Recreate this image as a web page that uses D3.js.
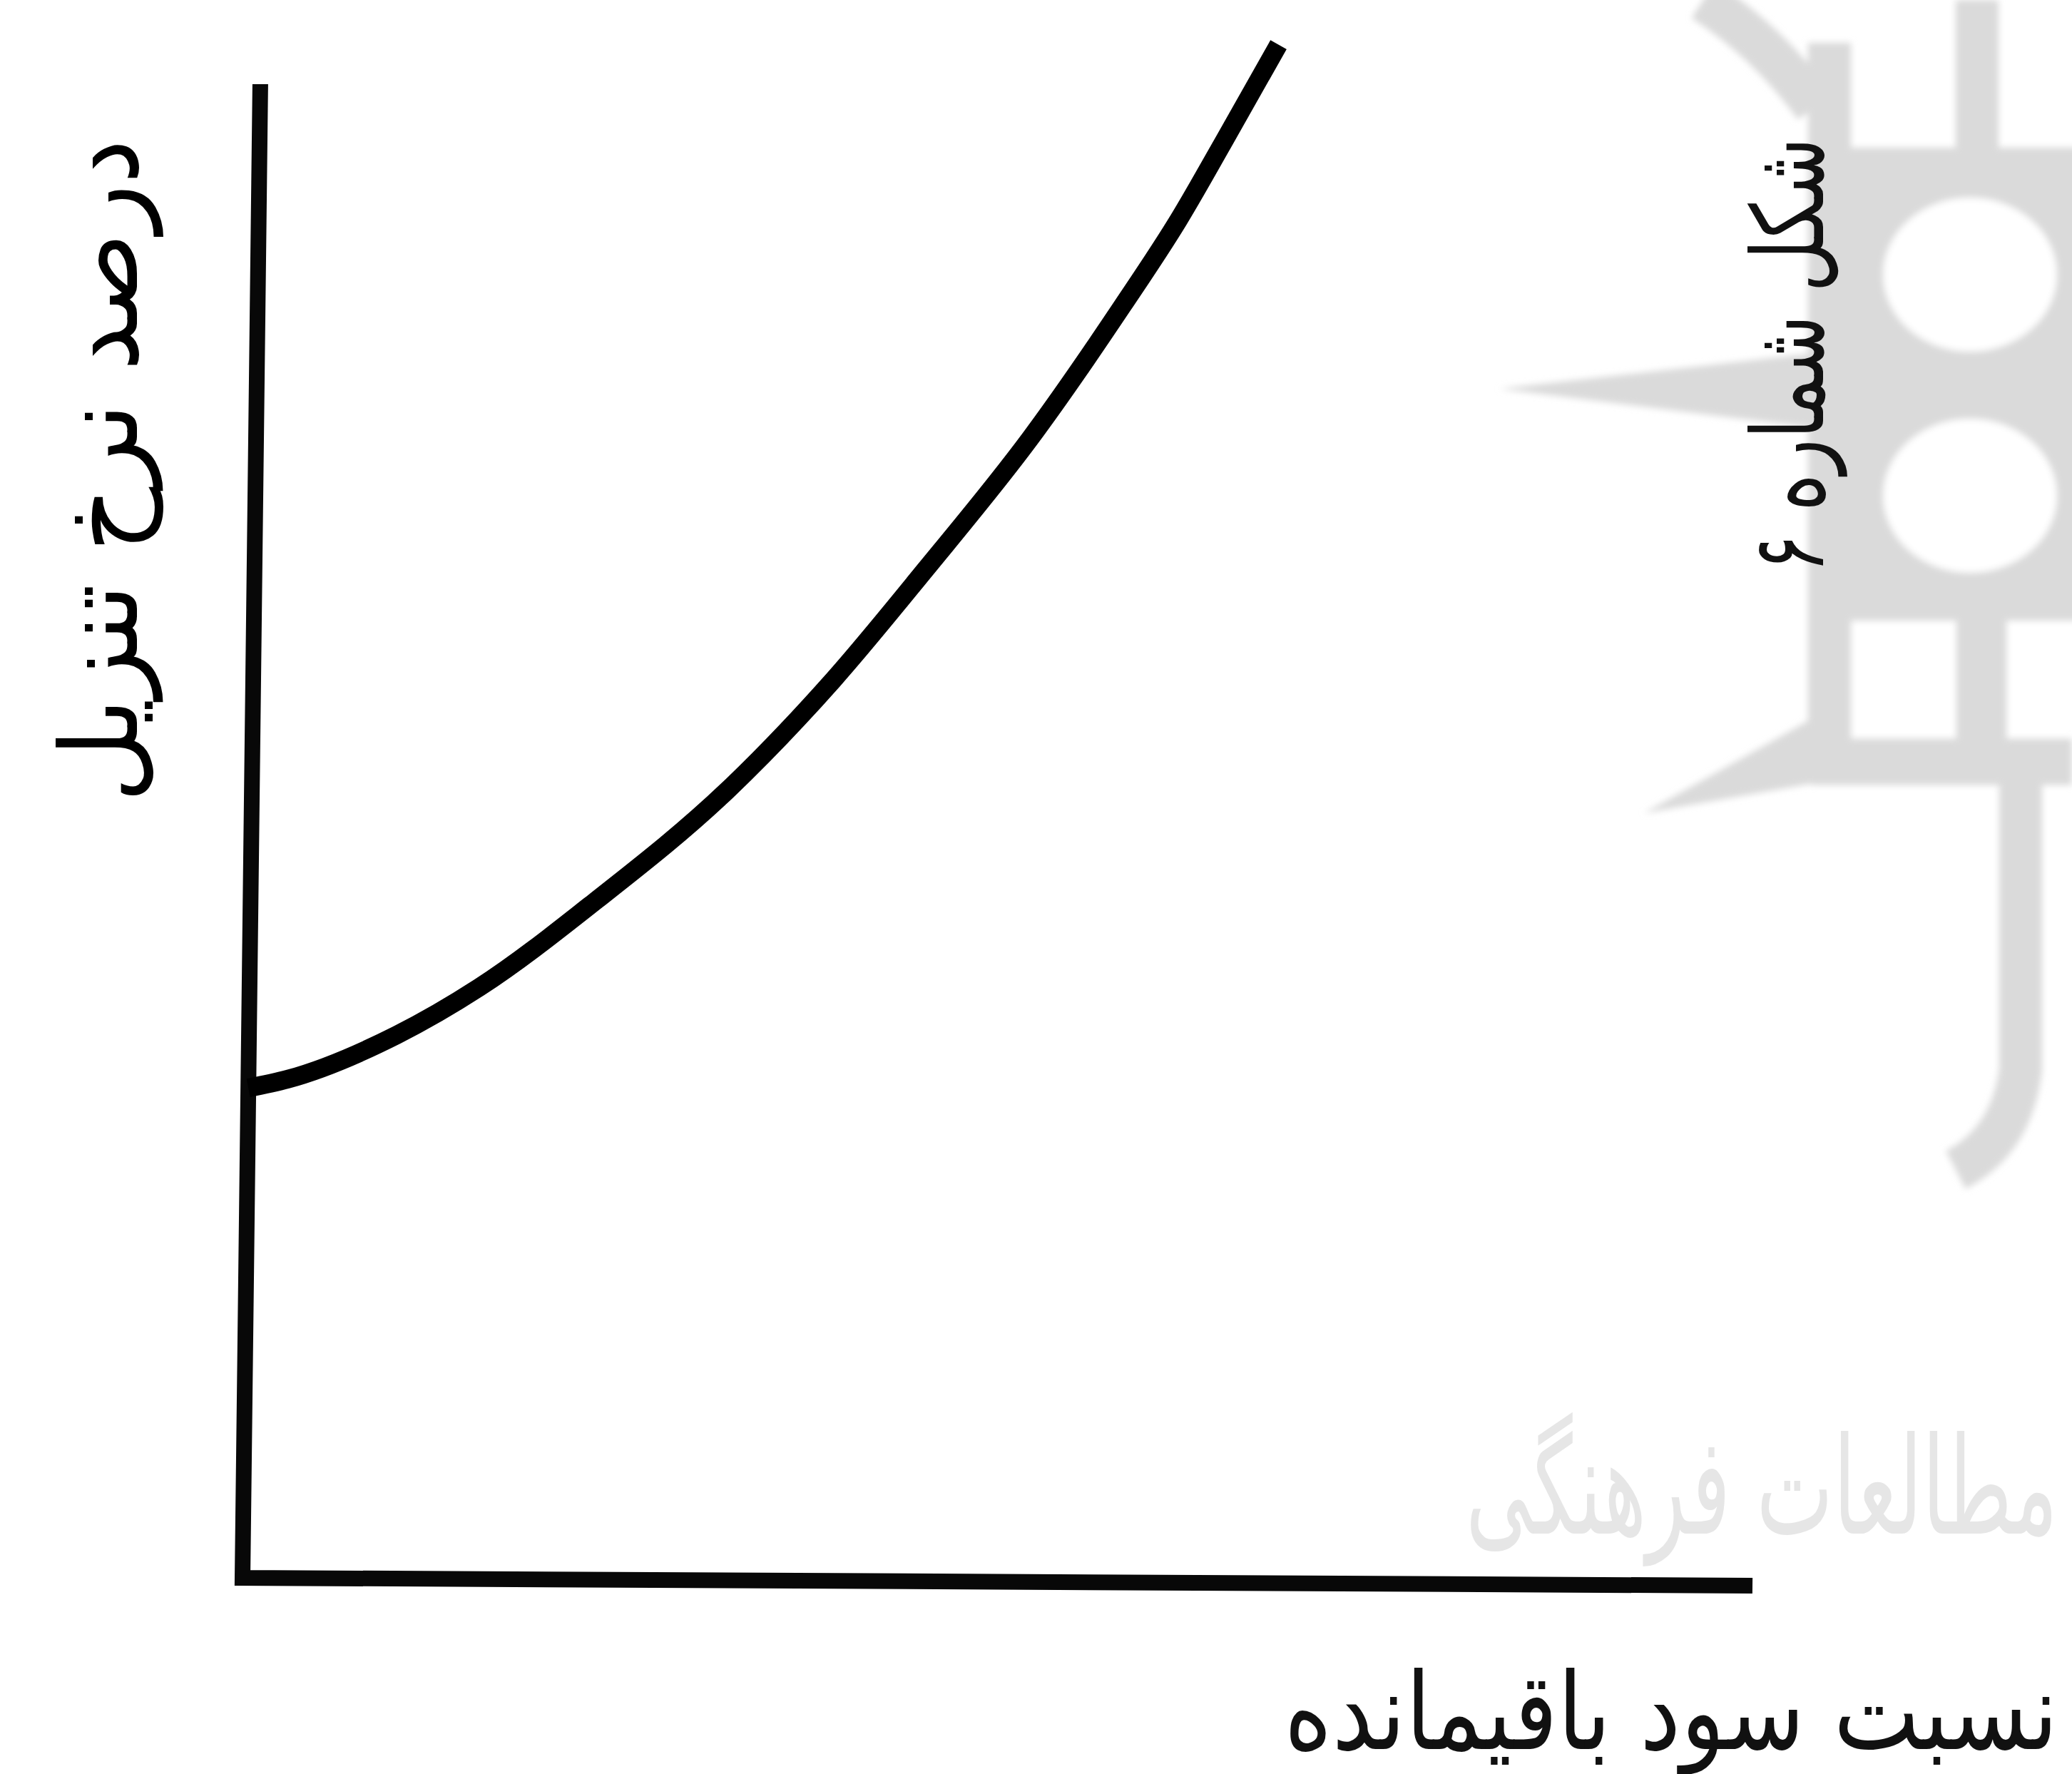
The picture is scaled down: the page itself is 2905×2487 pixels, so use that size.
<!DOCTYPE html>
<html>
<head>
<meta charset="utf-8">
<script src="https://cdn.jsdelivr.net/npm/d3@7"></script>
<style>
  html, body { margin: 0; padding: 0; background: #ffffff; }
  svg { display: block; }
</style>
</head>
<body>
<script>
// ---- data (abstract units; the chart has no ticks) ----
const curveX = [0, 2.6, 9.8, 15.2, 22.8, 31.5, 38.4, 44.4, 51.3, 57.3, 60.9, 63.8, 67.4];
const curveY = [32.8, 33.4, 36.4, 39.6, 45.4, 52.9, 60.3, 67.7, 76.6, 85.5, 91.2, 96.4, 103.0];
const xDomain = [0, 100];
const yDomain = [0, 100];
const xLabel = "نسبت سود باقیمانده";
const yLabel = "درصد نرخ تنزیل";
const figLabel = "شکل شماره ۶";
const watermarkText = "مطالعات فرهنگی";

const W = 2905, H = 2487;
const svg = d3.select("body").append("svg").attr("width", W).attr("height", H)
  .style("background", "#fff");

const defs = svg.append("defs");
defs.append("filter").attr("id", "soft")
  .append("feGaussianBlur").attr("stdDeviation", 5);

// fit a text to a target length by its font size, then stretch glyph height
function fittedText(parent, str, targetLen, glyphSize, fill) {
  const t = parent.append("text")
    .attr("x", 0).attr("y", 0)
    .attr("text-anchor", "middle").attr("direction", "rtl")
    .attr("font-family", "DejaVu Sans").attr("font-size", 100)
    .attr("fill", fill)
    .text(str);
  const L = t.node().getComputedTextLength() || targetLen;
  const fs = 100 * targetLen / L;
  t.attr("font-size", fs.toFixed(2))
   .attr("transform", `scale(1,${(glyphSize / fs).toFixed(3)})`);
  return t;
}

// ---- faint watermark (scan background decoration) ----
const grey = "#dadada";
const wm = svg.append("g").attr("filter", "url(#soft)");
wm.append("rect").attr("x", 2595).attr("y", 207).attr("width", 330).attr("height", 663).attr("fill", grey);
wm.append("ellipse").attr("cx", 2762).attr("cy", 385).attr("rx", 122).attr("ry", 108).attr("fill", "#fff");
wm.append("ellipse").attr("cx", 2762).attr("cy", 695).attr("rx", 122).attr("ry", 108).attr("fill", "#fff");
const wl = wm.append("g").attr("fill", "none").attr("stroke", grey);
wl.append("path").attr("d", "M2388,0 Q2480,60 2545,150").attr("stroke-width", 60);
wl.append("path").attr("d", "M2565,60 L2565,1040").attr("stroke-width", 60);
wl.append("path").attr("d", "M2772,0 L2772,230").attr("stroke-width", 60);
wl.append("path").attr("d", "M2540,1068 L2905,1068").attr("stroke-width", 65);
wl.append("path").attr("d", "M2778,830 L2778,1100").attr("stroke-width", 70);
wl.append("path").attr("d", "M2833,1100 L2833,1500 Q2820,1600 2742,1640").attr("stroke-width", 60);
wm.append("polygon").attr("points", "2102,545 2545,495 2545,600").attr("fill", grey);
wm.append("polygon").attr("points", "2305,1140 2545,1005 2560,1095").attr("fill", grey);
fittedText(svg.append("g").attr("transform", "translate(2470,2150)"),
  watermarkText, 830, 190, "#e6e6e6");

// ---- plot frame (slightly skewed like the scanned page) ----
const plotW = 2117, plotH = 2094;
const x = d3.scaleLinear().domain(xDomain).range([0, plotW]);
const y = d3.scaleLinear().domain(yDomain).range([0, -plotH]);

const g = svg.append("g")
  .attr("transform", "matrix(1,0.0052,-0.0119,1,340,2212)");

// axes: an L-shaped path through the ends of the scales' domains
const axisPts = [[xDomain[0], yDomain[1]], [xDomain[0], yDomain[0]], [xDomain[1], yDomain[0]]];
g.append("path")
  .attr("d", d3.line().x(d => x(d[0])).y(d => y(d[1]))(axisPts))
  .attr("fill", "none").attr("stroke", "#080808")
  .attr("stroke-width", 22).attr("stroke-linejoin", "miter");

// curve
const pts = curveX.map((v, i) => [v, curveY[i]]);
g.append("path")
  .attr("d", d3.line().x(d => x(d[0])).y(d => y(d[1])).curve(d3.curveMonotoneX)(pts))
  .attr("fill", "none").attr("stroke", "#000")
  .attr("stroke-width", 26).attr("stroke-linecap", "butt");

// ---- texts ----
fittedText(svg.append("g").attr("transform", "translate(192,660) rotate(-90)"),
  yLabel, 930, 150, "#000");
fittedText(svg.append("g").attr("transform", "translate(2556,498) rotate(-90)"),
  figLabel, 610, 140, "#111");
fittedText(svg.append("g").attr("transform", "translate(2343,2452)"),
  xLabel, 1085, 150, "#111");
</script>
</body>
</html>
